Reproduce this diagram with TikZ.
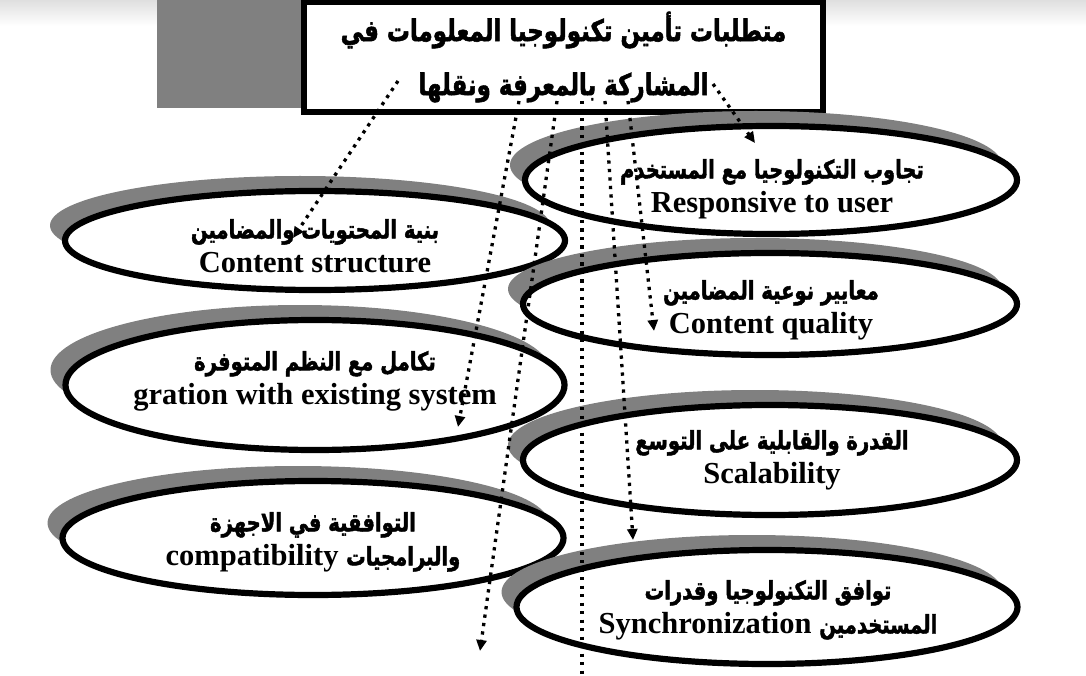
\documentclass[tikz,border=0pt]{standalone}
\usepackage{fontspec}
\setmainfont{Liberation Serif}
\newfontfamily\arabicfont[Script=Arabic, BoldFeatures={FakeBold=2}]{DejaVu Sans}
\TeXXeTstate=1
\usetikzlibrary{shapes.geometric, arrows.meta, shadows}
\definecolor{shadowgray}{gray}{0.5}
\newcommand{\artext}[2][23]{\scalebox{0.85}[1.1]{\arabicfont\fontsize{#1}{34}\selectfont\beginR #2\endR}}

\begin{document}
\begin{tikzpicture}[
    x=1pt, y=-1pt,
    font=\bfseries\fontsize{30.5}{34}\selectfont,
    goal/.style={
        ellipse, draw=black, line width=6.2pt,
        fill=white, inner sep=0pt,
        drop shadow={shadow xshift=-15pt, shadow yshift=15pt, fill=shadowgray, opacity=1}
    },
    goaltext/.style={align=center, inner sep=0pt},
    titlebox/.style={
        rectangle, draw=black, line width=6.5pt,
        fill=white,
        minimum width=519pt, minimum height=110pt, align=center, inner sep=0pt
    },
    link/.style={draw=black, line width=3.3pt, dash pattern=on 3.3pt off 5.2pt,
        -{Triangle[length=11pt, width=10pt]}}
]
\useasboundingbox (0,0) rectangle (1086,676);

% ---------------------------------------------------------------------
% 1. TOP: TITLE BOX
% ---------------------------------------------------------------------
\shade[top color=gray!25, bottom color=white] (0,0) rectangle (1086,26);
\fill[shadowgray] (157,0) rectangle (400,108);

\node[titlebox] (Title) at (563.5, 57) {\artext[27]{متطلبات تأمين تكنولوجيا المعلومات في}\\[20pt]
    \artext[27]{المشاركة بالمعرفة ونقلها}};

% ---------------------------------------------------------------------
% 2. LEFT COLUMN
% ---------------------------------------------------------------------
\node[goal, minimum width=500pt, minimum height=99pt] (Structure) at (315, 240.5) {};
\node[goaltext] (StructureText) at (315, 246) {\artext{بنية المحتويات والمضامين}\\ Content structure};

\node[goal, minimum width=499pt, minimum height=130pt] (Integration) at (315, 385) {};
\node[goaltext] (IntegrationText) at (315, 381) {\artext{تكامل مع النظم المتوفرة}\\ gration with existing system};

\node[goal, minimum width=501pt, minimum height=114pt] (Compatibility) at (313, 538) {};
\node[goaltext] (CompatibilityText) at (313, 542) {\artext{التوافقية في الاجهزة}\\ compatibility \artext{والبرامجيات}};

% ---------------------------------------------------------------------
% 3. RIGHT COLUMN
% ---------------------------------------------------------------------
\node[goal, minimum width=492pt, minimum height=108pt] (Responsive) at (771, 180) {};
\node[goaltext] (ResponsiveText) at (772, 189) {\artext{تجاوب التكنولوجيا مع المستخدم}\\ Responsive to user};

\node[goal, minimum width=494pt, minimum height=102pt] (Quality) at (770, 304) {};
\node[goaltext] (QualityText) at (771, 310) {\artext{معايير نوعية المضامين}\\ Content quality};

\node[goal, minimum width=494pt, minimum height=110pt] (Scalability) at (770, 460) {};
\node[goaltext] (ScalabilityText) at (772, 460) {\artext{القدرة والقابلية على التوسع}\\ Scalability};

\node[goal, minimum width=501pt, minimum height=114pt] (Sync) at (767, 607) {};
\node[goaltext] (SyncText) at (768, 610) {\artext{توافق التكنولوجيا وقدرات}\\ Synchronization \artext{المستخدمين}};

% ---------------------------------------------------------------------
% 4. DOTTED LINKS FROM THE TITLE
% ---------------------------------------------------------------------
\coordinate (T1) at (398, 81);  \coordinate (toStructure) at (293, 238);
\coordinate (T2) at (713, 84);  \coordinate (toResponsive) at (755, 143);
\coordinate (T3) at (519, 101); \coordinate (toIntegration) at (458, 427);
\coordinate (T4) at (557, 101); \coordinate (belowCompat) at (480, 651);
\coordinate (T5) at (582, 101); \coordinate (pageEnd) at (582, 676);
\coordinate (T6) at (605, 101); \coordinate (toSync) at (633, 540);
\coordinate (T7) at (628, 101); \coordinate (toQuality) at (654, 331);

\draw[link] (T1) -- (toStructure);
\draw[link] (T2) -- (toResponsive);
\draw[link] (T3) -- (toIntegration);
\draw[link] (T4) -- (belowCompat);
\draw[link, -] (T5) -- (pageEnd);
\draw[link] (T6) -- (toSync);
\draw[link] (T7) -- (toQuality);

\end{tikzpicture}
\end{document}
